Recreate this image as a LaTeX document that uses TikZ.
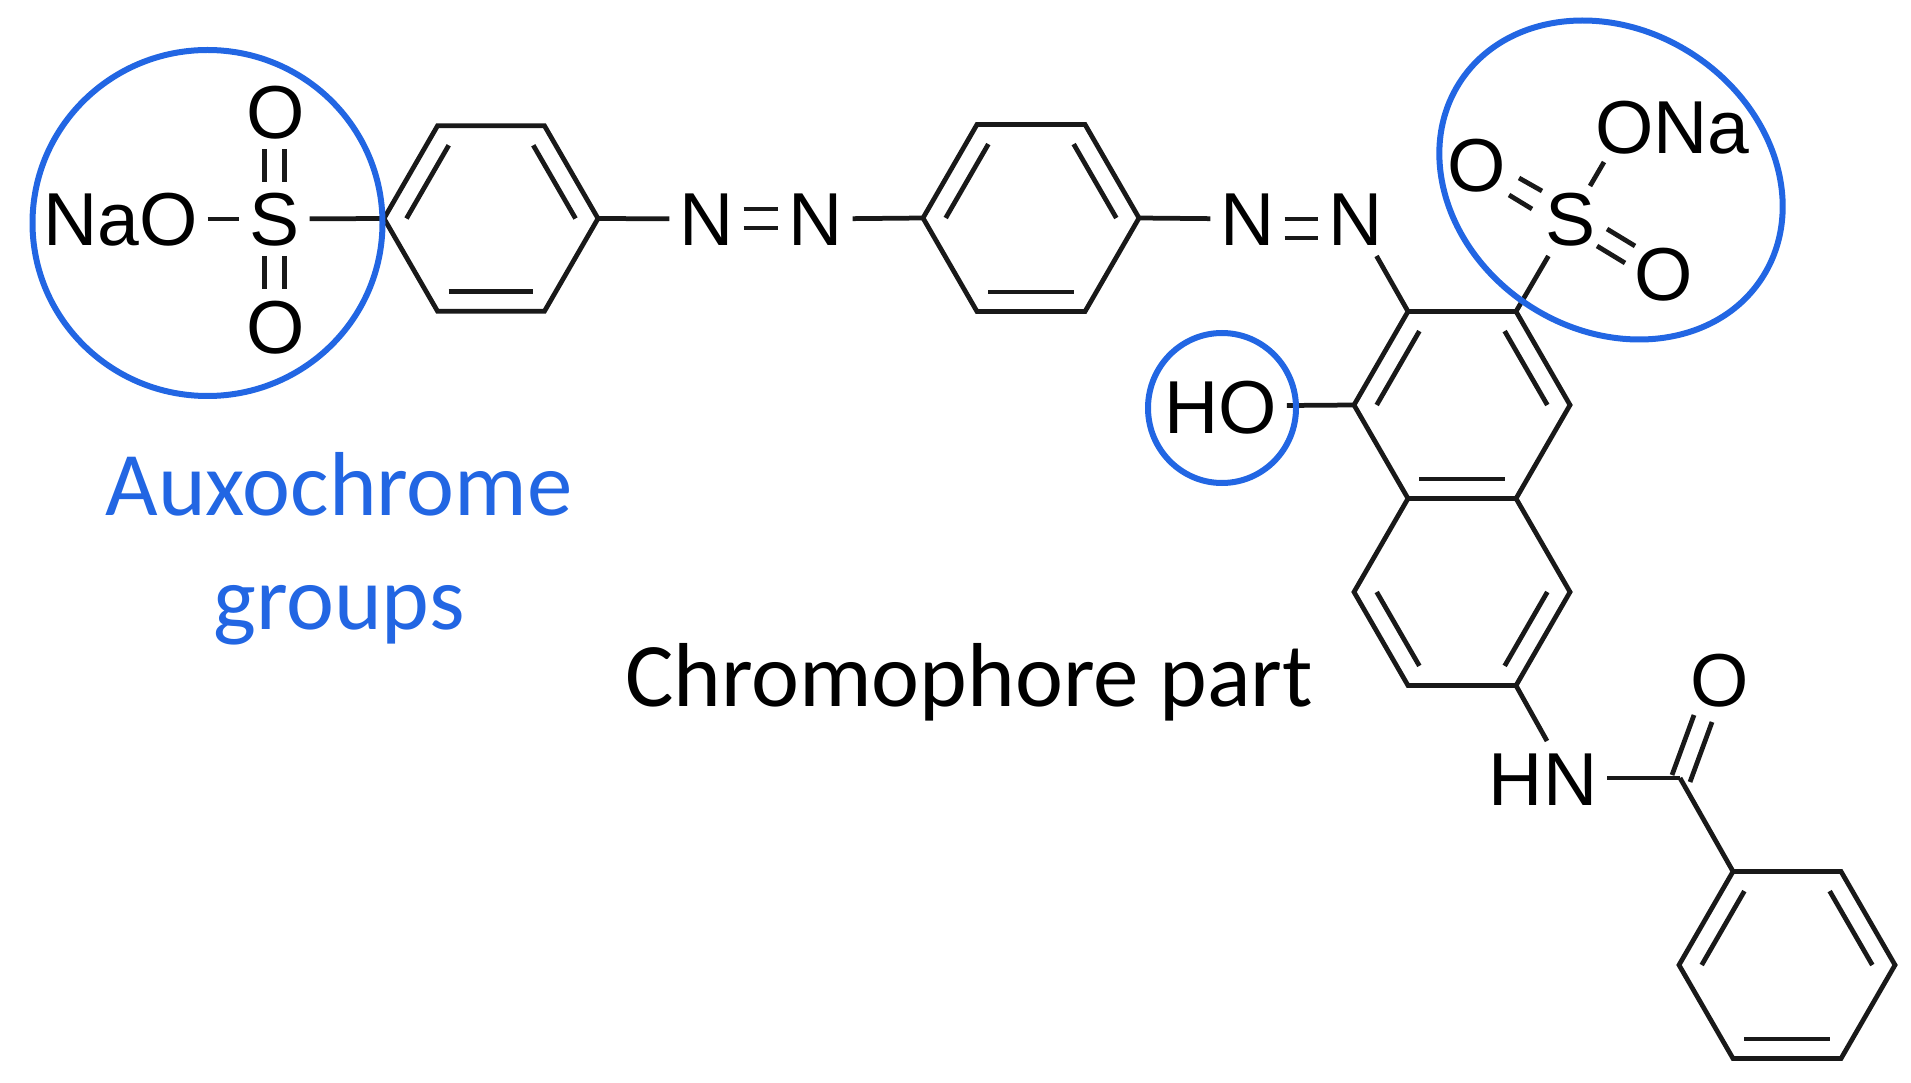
\documentclass[tikz,border=0pt]{standalone}
\usepackage{fontspec}
\setmainfont{Liberation Sans}
\newfontfamily\labelfont{Carlito}
\usetikzlibrary{calc}
\definecolor{auxblue}{HTML}{2266E3}
\tikzset{
  atom/.style={font=\fontsize{42.7}{50}\selectfont, inner sep=0pt, outer sep=2mm, text height=10.8mm, text depth=0pt},
  bond/.style={line width=0.95mm, line join=miter, black!90},
  auxring/.style={line width=1.2mm, auxblue},
  chemlabel/.style={font=\labelfont\fontsize{51.7}{64.8}\selectfont, inner sep=0pt, align=center},
}
\newcommand{\innerbond}[3]{\draw [bond] ($(#1)!.79!(#2)$) -- ($(#1)!.79!(#3)$);}
\begin{document}
\begin{tikzpicture}[x=0.2mm,y=0.2mm]
\useasboundingbox (0,0) rectangle (1911,-1083);

% Rings
\foreach \ring/\cx/\cy/\rad in {A/491/-218.5/107, B/1031/-218/108, C/1462/-405/108, D/1462/-592/108, E/1787/-965/108} {
  \coordinate (\ring c) at (\cx,\cy);
  \foreach \corner/\ang in {r/0, tr/60, tl/120, l/180, bl/240, br/300}
    \coordinate (\ring\corner) at ($(\cx,\cy)+(\ang:\rad)$);
}
\foreach \ring in {A,B,C,D,E}
  \draw [bond] (\ring r) -- (\ring tr) -- (\ring tl) -- (\ring l) -- (\ring bl) -- (\ring br) -- cycle;

\innerbond{Ac}{Al}{Atl}
\innerbond{Ac}{Atr}{Ar}
\innerbond{Ac}{Abl}{Abr}
\innerbond{Bc}{Bl}{Btl}
\innerbond{Bc}{Btr}{Br}
\innerbond{Bc}{Bbl}{Bbr}
\innerbond{Cc}{Cl}{Ctl}
\innerbond{Cc}{Ctr}{Cr}
\innerbond{Cc}{Cbl}{Cbr}
\innerbond{Dc}{Dl}{Dbl}
\innerbond{Dc}{Dr}{Dbr}
\innerbond{Ec}{El}{Etl}
\innerbond{Ec}{Etr}{Er}
\innerbond{Ec}{Ebl}{Ebr}

% Atoms
\node [atom] (NaO) at (120.5,-219) {NaO};
\node [atom] (S1) at (274.5,-219) {S};
\node [atom] (O1) at (275.5,-112) {O};
\node [atom] (O2) at (275.5,-326) {O};
\node [atom] (N1) at (706.5,-219) {N};
\node [atom] (N2) at (815.5,-219) {N};
\node [atom] (N3) at (1247.5,-219) {N};
\node [atom] (N4) at (1355.5,-219) {N};
\node [atom] (S2) at (1570,-219) {S};
\node [atom] (ONa) at (1672.5,-127) {ONa};
\node [atom] (O3) at (1477,-165) {O};
\node [atom] (O4) at (1664,-274) {O};
\node [atom] (HO) at (1220.5,-406) {HO};
\node [atom] (HN) at (1543,-778) {HN};
\node [atom] (O5) at (1720,-679) {O};
\coordinate (C1) at (1680,-778);

% Connections
\draw [bond] (NaO) -- (S1);
\draw [bond] (S1) -- (Al);
\draw [bond] (Ar) -- (N1);
\draw [bond] (N2) -- (Bl);
\draw [bond] (Br) -- (N3);
\draw [bond] (N4) -- (Ctl);
\draw [bond] (S2) -- (Ctr);
\draw [bond] (HO) -- (Cl);
\draw [bond] (HN) -- (C1);
\draw [bond] (C1) -- (Etl);
\draw [bond] (Dbr) -- ($(HN.north)+(4,0)$);
\draw [bond] ($(S2)+(20,33)$) -- ($(ONa)+(-68.5,-35)$);

% Double bonds
\draw [bond] ($(S1.north)+(-10,0)$) -- ($(O1.south)+(-11,0)$);
\draw [bond] ($(S1.north)+(10,0)$) -- ($(O1.south)+(9,0)$);
\draw [bond] ($(S1.south)+(-10,0)$) -- ($(O2.north)+(-11,0)$);
\draw [bond] ($(S1.south)+(10,0)$) -- ($(O2.north)+(9,0)$);
\draw [bond] ($(N1.east)+(0,10)$) -- ($(N2.west)+(0,10)$);
\draw [bond] ($(N1.east)+(0,-9)$) -- ($(N2.west)+(0,-9)$);
\draw [bond] (N3.east) -- (N4.west);
\draw [bond] ($(N3.east)+(0,-19)$) -- ($(N4.west)+(0,-19)$);
\draw [bond] ($(S2)+(-28,28)$) -- ($(O3)+(42,-13)$);
\draw [bond] ($(S2)+(-38,10)$) -- ($(O3)+(32,-30)$);
\draw [bond] ($(S2)+(37,-10)$) -- ($(O4)+(-29,28)$);
\draw [bond] ($(S2)+(27,-27)$) -- ($(O4)+(-39,11)$);
\draw [bond] ($(C1)+(-8,3)$) -- ($(O5)+(-26,-36)$);
\draw [bond] ($(C1)+(10,-4)$) -- ($(O5)+(-8,-43)$);

% Auxochrome rings
\draw [auxring] (207.5,-223) ellipse [x radius=175, y radius=173];
\draw [auxring] (1611,-180) ellipse [x radius=180, y radius=150, rotate=-33];
\draw [auxring] (1222,-408) ellipse [x radius=74, y radius=75];

% Labels
\node [chemlabel, text=auxblue] (auxlabel) at (339,-549) {Auxochrome\\groups};
\node [chemlabel, anchor=base] (chromolabel) at (969,-706) {Chromophore part};

\end{tikzpicture}
\end{document}
